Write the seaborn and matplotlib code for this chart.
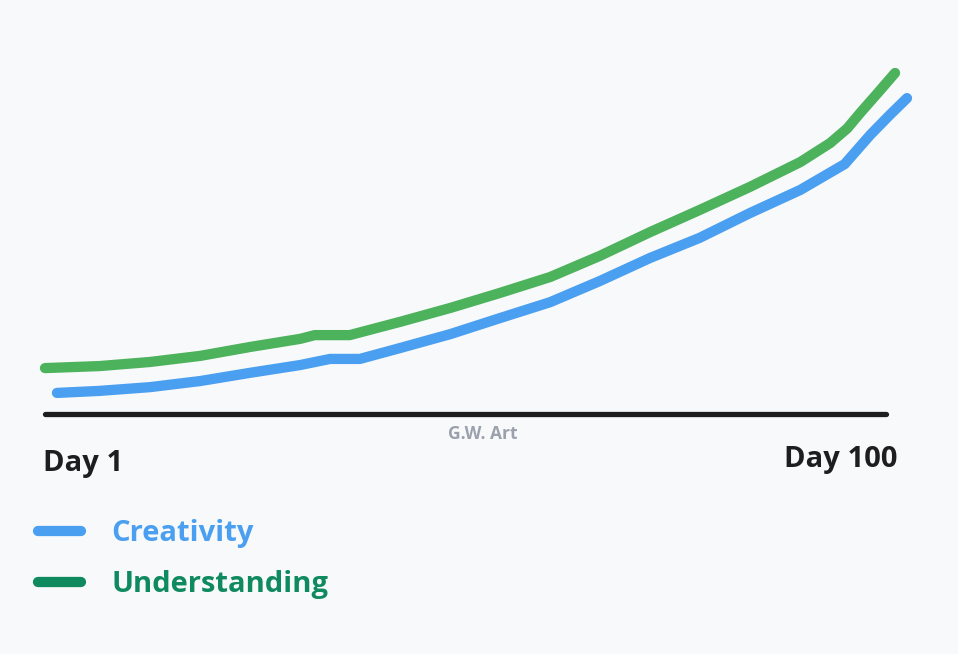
import pandas as pd
import matplotlib
matplotlib.use("Agg")
import matplotlib.pyplot as plt
import seaborn as sns
from matplotlib.lines import Line2D

# values (day, level)
understanding_day = [1.0, 7.4, 13.3, 19.2, 25.0, 30.9, 32.6, 36.7, 42.6, 48.5, 54.3,
                     60.2, 66.0, 71.9, 77.7, 83.6, 89.5, 93.0, 95.0, 96.5, 98.6, 100.6]
understanding_val = [13.5, 14.1, 15.3, 17.1, 19.7, 22.1, 23.2, 23.2, 27.1, 31.2, 35.6,
                     40.3, 46.5, 53.5, 60.0, 66.8, 74.1, 79.7, 84.0, 88.5, 94.5, 100.3]
creativity_day = [2.4, 7.4, 13.3, 19.2, 25.0, 30.9, 34.4, 37.9, 42.6, 48.5, 54.3,
                  60.2, 66.0, 71.9, 77.7, 83.6, 89.5, 94.7, 96.2, 97.7, 100.0, 102.0]
creativity_val = [6.2, 6.8, 7.9, 9.7, 12.1, 14.4, 16.2, 16.2, 19.4, 23.5, 28.2,
                  32.9, 39.1, 45.9, 51.8, 59.1, 65.9, 73.5, 77.8, 82.1, 88.0, 92.9]
axis_days = [1, 99.5]
axis_vals = [0, 0]

series_names = ["Creativity", "Understanding"]
line_colors = {"Creativity": "#4a9ff0", "Understanding": "#4cb25c"}
legend_colors = {"Creativity": "#4a9ff0", "Understanding": "#0f8a5f"}
start_label = "Day 1"
end_label = "Day 100"
credit = "G.W. Art"

df = pd.concat([
    pd.DataFrame({"day": creativity_day, "level": creativity_val, "series": "Creativity"}),
    pd.DataFrame({"day": understanding_day, "level": understanding_val, "series": "Understanding"}),
])

sns.set_theme(style="white")
plt.rcParams["font.family"] = ["Open Sans", "DejaVu Sans"]
bg = "#f8f9fb"

fig = plt.figure(figsize=(9.58, 6.54), dpi=100, facecolor=bg)
ax = fig.add_axes([45 / 958, (654 - 414) / 654, (907 - 45) / 958, 340 / 654])
ax.set_facecolor(bg)

#baseline
ax.plot(axis_days, axis_vals, color="#1e1e1e", lw=3.8, solid_capstyle="round", clip_on=False)

sns.lineplot(data=df, x="day", y="level", hue="series", palette=line_colors,
             estimator=None, sort=False, lw=7.4, legend=False, ax=ax)
for ln in ax.lines[1:]:
    ln.set_solid_capstyle("round")
    ln.set_solid_joinstyle("round")
    ln.set_clip_on(False)

ax.set_xlim(1, 102)
ax.set_ylim(0, 100)
ax.set_axis_off()

#labels under the axis
fig.text(43 / 958, 1 - 464 / 654, start_label, fontsize=21, fontweight="bold",
         color="#1e1e1e", ha="left", va="center")
fig.text(897 / 958, 1 - 460 / 654, end_label, fontsize=21, fontweight="bold",
         color="#1e1e1e", ha="right", va="center")
fig.text(483 / 958, 1 - 434 / 654, credit, fontsize=12.5, fontweight="bold",
         color="#9aa1ad", ha="center", va="center")

#legend
handles = [Line2D([0], [0], color=legend_colors[s], lw=7.4, solid_capstyle="round")
           for s in series_names]
leg = fig.legend(handles, series_names, loc="upper left",
                 bbox_to_anchor=(12 / 958, 1 - 493 / 654), frameon=False,
                 fontsize=21, handlelength=1.45, handletextpad=1.05, labelspacing=0.75)
for txt, s in zip(leg.get_texts(), series_names):
    txt.set_color(legend_colors[s])
    txt.set_fontweight("bold")

fig.savefig("out.png", dpi=100, facecolor=bg)
